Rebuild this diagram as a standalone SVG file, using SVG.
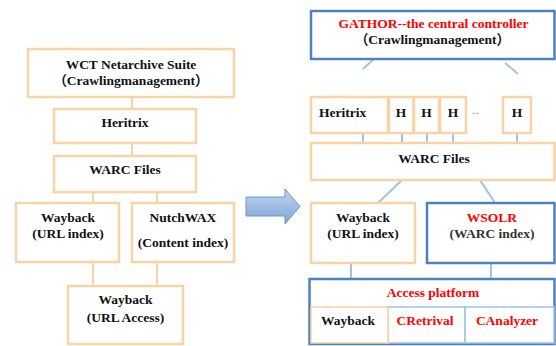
<svg xmlns="http://www.w3.org/2000/svg" width="556" height="346" viewBox="0 0 556 346" font-family="Liberation Serif, Times New Roman, DejaVu Serif, serif">
<style>
text{font-family:"Liberation Serif","Times New Roman","DejaVu Serif",serif;font-weight:bold;font-size:13.5px;fill:#111;text-anchor:middle}
.cjk{font-family:"Liberation Serif","Noto Sans CJK SC","DejaVu Serif",serif}
.red{fill:#ff0000}
.pe{fill:#fff;stroke:#f9d3a3;stroke-width:2.5}
.bl{fill:#fff;stroke:#4f81bd;stroke-width:2.5}
.lb{fill:#fff;stroke:#9dc3e6;stroke-width:1.5}
.cp{stroke:#f9d3a3;stroke-width:2;fill:none}
.cb{stroke:#9dc3e6;stroke-width:2;fill:none}
</style>
<defs>
<linearGradient id="ag" x1="0" y1="0" x2="0" y2="1">
<stop offset="0" stop-color="#c0d5ee"/>
<stop offset="1" stop-color="#7ea5d6"/>
</linearGradient>
</defs>
<rect width="556" height="346" fill="#fff"/>
<g id="connectors">
<line class="cp" x1="132" y1="97" x2="132" y2="109"/>
<line class="cp" x1="132" y1="143" x2="132" y2="156"/>
<line class="cp" x1="93" y1="192" x2="93" y2="203"/>
<line class="cp" x1="157" y1="192" x2="157" y2="203"/>
<line class="cp" x1="93" y1="262" x2="93" y2="286"/>
<line class="cp" x1="157" y1="262" x2="157" y2="286"/>
<line class="cb" x1="375" y1="58" x2="363" y2="69"/>
<line class="cb" x1="505" y1="63" x2="518" y2="74"/>
<line class="cb" x1="363" y1="133" x2="363" y2="143"/>
<line class="cb" x1="402" y1="133" x2="402" y2="143"/>
<line class="cb" x1="427" y1="133" x2="427" y2="143"/>
<line class="cb" x1="453" y1="133" x2="453" y2="143"/>
<line class="cb" x1="517" y1="133" x2="517" y2="143"/>
<line class="cb" x1="402" y1="180" x2="378" y2="203"/>
<line class="cb" x1="480" y1="180" x2="495" y2="203"/>
<line class="cb" x1="351" y1="263" x2="351" y2="278"/>
<line class="cb" x1="491" y1="263" x2="491" y2="278"/>
</g>
<g id="wct">
<rect class="pe" x="28" y="49" width="206" height="48"/>
<text x="131" y="69">WCT Netarchive Suite</text>
<text class="cjk" x="131" y="85">（Crawlingmanagement）</text>
</g>
<g id="heritrix-left">
<rect class="pe" x="54" y="109" width="142" height="34"/>
<text x="125" y="127">Heritrix</text>
</g>
<g id="warc-left">
<rect class="pe" x="54" y="156" width="142" height="36"/>
<text x="125" y="174">WARC Files</text>
</g>
<g id="wayback-index-left">
<rect class="pe" x="16" y="203" width="103" height="59"/>
<text x="68" y="222">Wayback</text>
<text x="68" y="238">(URL index)</text>
</g>
<g id="nutchwax">
<rect class="pe" x="132" y="203" width="102" height="59"/>
<text x="183" y="222">NutchWAX</text>
<text x="183" y="247">(Content index)</text>
</g>
<g id="wayback-access">
<rect class="pe" x="68" y="286" width="115" height="58"/>
<text x="125.5" y="304">Wayback</text>
<text x="125.5" y="322">(URL Access)</text>
</g>
<g id="arrow">
<path d="M246,197 H285 V189 L300,206.5 L285,224 V216 H246 Z" fill="url(#ag)" stroke="#7096c8" stroke-width="1"/>
</g>
<g id="gathor">
<rect class="bl" x="311" y="11" width="243.5" height="48"/>
<text class="red" x="433.5" y="28">GATHOR--the central controller</text>
<text class="cjk" x="432.5" y="44">（Crawlingmanagement）</text>
</g>
<g id="heritrix-right">
<rect class="pe" x="311" y="97" width="77" height="36"/>
<text x="319" y="117" style="text-anchor:start">Heritrix</text>
</g>
<g id="h1"><rect class="pe" x="389" y="97" width="24.5" height="36"/><text x="401" y="117">H</text></g>
<g id="h2"><rect class="pe" x="414" y="97" width="25" height="36"/><text x="426.5" y="117">H</text></g>
<g id="h3"><rect class="pe" x="440" y="97" width="26" height="36"/><text x="453" y="117">H</text></g>
<text x="476" y="114" style="font-size:11px;font-weight:normal;fill:#777;letter-spacing:1px">..</text>
<g id="h4"><rect class="pe" x="503" y="97" width="28" height="36"/><text x="517" y="117">H</text></g>
<g id="warc-right">
<rect class="pe" x="311" y="143" width="243.5" height="37"/>
<text x="434" y="163">WARC Files</text>
</g>
<g id="wayback-index-right">
<rect class="pe" x="311" y="203" width="104" height="60"/>
<text x="363" y="222">Wayback</text>
<text x="363" y="238">(URL index)</text>
</g>
<g id="wsolr">
<rect class="bl" x="427" y="203" width="127.5" height="60"/>
<text class="red" x="492" y="222">WSOLR</text>
<text x="492" y="238" style="fill:#333">(WARC index)</text>
</g>
<g id="access-platform">
<rect class="bl" x="309.5" y="279" width="245" height="65"/>
<text class="red" x="433" y="297">Access platform</text>
<rect class="lb" x="388" y="307" width="77" height="36"/>
<rect class="lb" x="465" y="307" width="89" height="36"/>
<rect x="311" y="307" width="77" height="36" fill="#fff" stroke="#f9d3a3" stroke-width="1.5"/>
<text x="348" y="325">Wayback</text>
<text class="red" x="425" y="325">CRetrival</text>
<text class="red" x="507" y="325">CAnalyzer</text>
</g>
</svg>
